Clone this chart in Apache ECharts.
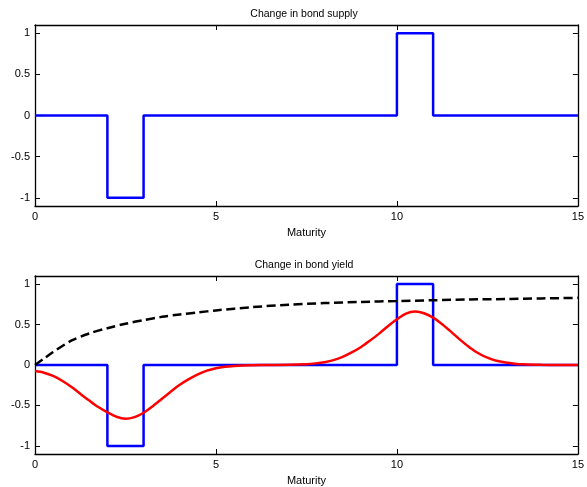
<!DOCTYPE html>
<html>
<head>
<meta charset="utf-8">
<script src="https://cdn.jsdelivr.net/npm/echarts@6/dist/echarts.min.js"></script>
<style>html,body{margin:0;padding:0;background:#fff}#c{width:587px;height:487px}</style>
</head>
<body>
<div id="c"></div>
<script>
// Titles and labels
const titleTop = 'Change in bond supply';
const titleBottom = 'Change in bond yield';
const xLabel = 'Maturity';
const xTicks = [0, 5, 10, 15];
const yTicks = [-1, -0.5, 0, 0.5, 1];

// Change in bond supply (step profile)
const supplyX = [0, 2, 2, 3, 3, 10, 10, 11, 11, 15];
const supplyY = [0, 0, -1, -1, 0, 0, 1, 1, 0, 0];

// Change in bond yield (red)
const yieldX = [0, 0.25, 0.5, 0.75, 1, 1.25, 1.5, 1.75, 2, 2.25, 2.5, 2.75, 3, 3.25, 3.5, 3.75, 4, 4.25, 4.5, 4.75, 5, 5.25, 5.5, 5.75, 6, 6.5, 7, 7.5, 7.75, 8, 8.25, 8.5, 8.75, 9, 9.25, 9.5, 9.75, 10, 10.25, 10.5, 10.75, 11, 11.25, 11.5, 11.75, 12, 12.25, 12.5, 12.75, 13, 13.25, 13.5, 14, 14.5, 15];
const yieldY = [-0.075, -0.095, -0.135, -0.195, -0.27, -0.355, -0.44, -0.52, -0.585, -0.64, -0.665, -0.645, -0.59, -0.51, -0.42, -0.33, -0.245, -0.175, -0.115, -0.07, -0.04, -0.022, -0.012, -0.006, -0.003, 0, 0.002, 0.01, 0.02, 0.035, 0.06, 0.10, 0.155, 0.22, 0.30, 0.385, 0.48, 0.565, 0.635, 0.66, 0.64, 0.585, 0.505, 0.41, 0.31, 0.22, 0.145, 0.09, 0.052, 0.03, 0.016, 0.008, 0.002, 0, 0];

// Dashed black curve
const dashX = [0, 0.25, 0.5, 1, 1.5, 2, 2.5, 3, 3.5, 4, 4.5, 5, 6, 7, 8, 9, 10, 11, 12, 13, 14, 15];
const dashY = [0, 0.08, 0.16, 0.30, 0.39, 0.455, 0.51, 0.555, 0.595, 0.625, 0.65, 0.675, 0.715, 0.745, 0.765, 0.78, 0.79, 0.80, 0.81, 0.815, 0.823, 0.83];

const zip = (xs, ys) => xs.map((x, i) => [x, ys[i]]);
const FONT = 'Liberation Sans, Arial, sans-serif';
const grids = [
  {left: 35, right: 6, top: 25, height: 181},
  {left: 35, right: 6, top: 276, height: 181}
];

function xAxes(g) {
  const base = {
    type: 'value', gridIndex: g, min: 0, max: 15, interval: 5,
    splitLine: {show: false},
    axisLine: {show: true, onZero: false, lineStyle: {color: '#000', width: 1.3}},
    axisTick: {show: true, inside: true, length: 5, customValues: xTicks, lineStyle: {color: '#000'}}
  };
  return [
    Object.assign({}, base, {
      position: 'bottom', name: xLabel, nameLocation: 'middle', nameGap: 21,
      nameTextStyle: {fontFamily: FONT, fontSize: 11, color: '#000'},
      axisLabel: {show: true, margin: 5, customValues: xTicks, fontFamily: FONT, fontSize: 11, color: '#000'}
    }),
    Object.assign({}, base, {position: 'top', axisLabel: {show: false}})
  ];
}
function yAxes(g) {
  const base = {
    type: 'value', gridIndex: g, min: -1.1, max: 1.1,
    splitLine: {show: false},
    axisLine: {show: true, onZero: false, lineStyle: {color: '#000', width: 1.3}},
    axisTick: {show: true, inside: true, length: 5, customValues: yTicks, lineStyle: {color: '#000'}}
  };
  return [
    Object.assign({}, base, {
      position: 'left',
      axisLabel: {show: true, margin: 5, customValues: yTicks, fontFamily: FONT, fontSize: 11, color: '#000'}
    }),
    Object.assign({}, base, {position: 'right', axisLabel: {show: false}})
  ];
}

const blueStyle = {color: '#0000ff', width: 2.5};
const chart = echarts.init(document.getElementById('c'), null, {renderer: 'canvas'});
chart.setOption({
  animation: false,
  backgroundColor: '#fff',
  title: [
    {text: titleTop, left: 299, top: 4, textAlign: 'center', textStyle: {fontFamily: FONT, fontSize: 10.5, fontWeight: 'normal', color: '#000'}},
    {text: titleBottom, left: 299, top: 255, textAlign: 'center', textStyle: {fontFamily: FONT, fontSize: 10.5, fontWeight: 'normal', color: '#000'}}
  ],
  grid: grids,
  xAxis: xAxes(0).concat(xAxes(1)),
  yAxis: yAxes(0).concat(yAxes(1)),
  series: [
    {type: 'line', xAxisIndex: 0, yAxisIndex: 0, data: zip(supplyX, supplyY), symbol: 'none', lineStyle: blueStyle, color: '#0000ff'},
    {type: 'line', xAxisIndex: 2, yAxisIndex: 2, data: zip(supplyX, supplyY), symbol: 'none', lineStyle: blueStyle, color: '#0000ff'},
    {type: 'line', xAxisIndex: 2, yAxisIndex: 2, data: zip(dashX, dashY), symbol: 'none', smooth: 0.3, lineStyle: {color: '#000', width: 2.5, type: [9, 4.5]}, color: '#000'},
    {type: 'line', xAxisIndex: 2, yAxisIndex: 2, data: zip(yieldX, yieldY), symbol: 'none', smooth: 0.3, lineStyle: {color: '#ff0000', width: 2.5}, color: '#ff0000'}
  ]
});
</script>
</body>
</html>
